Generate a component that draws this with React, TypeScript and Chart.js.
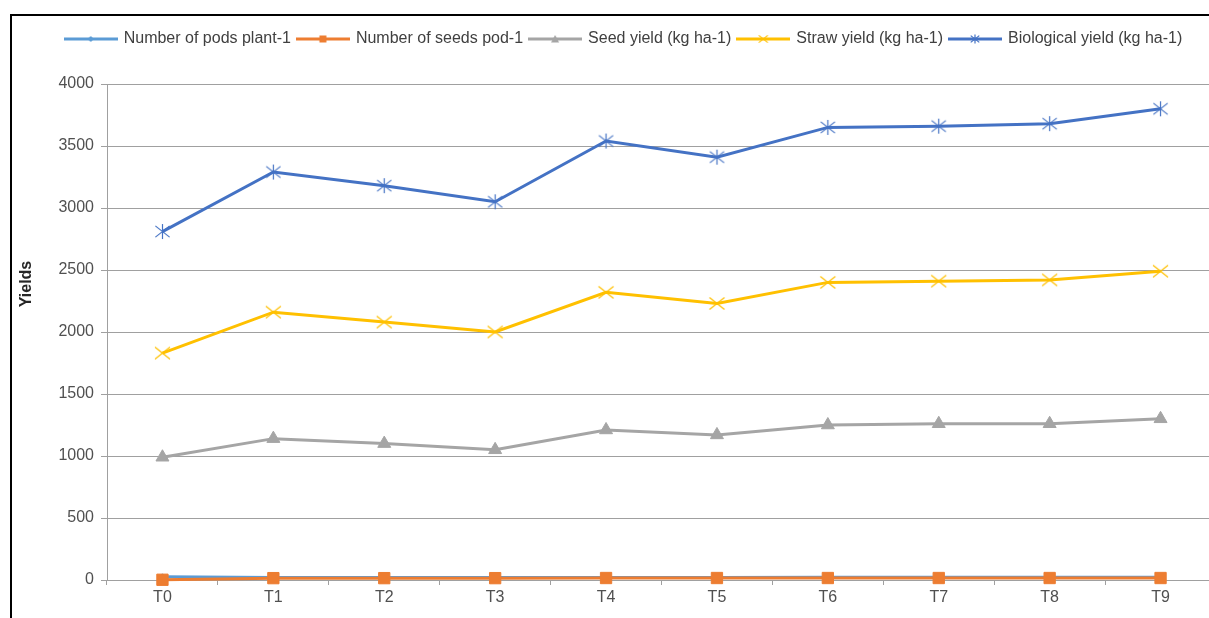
import React, { useEffect, useRef } from "react";
import { Chart, registerables } from "chart.js";

Chart.register(...registerables);

const categories = ["T0", "T1", "T2", "T3", "T4", "T5", "T6", "T7", "T8", "T9"];
const podsPerPlant = [26, 20, 21, 20, 21, 21, 22, 22, 22, 22];
const seedsPerPod = [2, 15, 15, 15, 16, 16, 16, 16, 16, 16];
const seedYield = [990, 1140, 1100, 1050, 1210, 1170, 1250, 1260, 1260, 1300];
const strawYield = [1830, 2160, 2080, 2000, 2320, 2230, 2400, 2410, 2420, 2490];
const biologicalYield = [2810, 3290, 3180, 3050, 3540, 3410, 3650, 3660, 3680, 3800];
const seriesNames = [
  "Number of pods plant-1",
  "Number of seeds pod-1",
  "Seed yield (kg ha-1)",
  "Straw yield (kg ha-1)",
  "Biological yield (kg ha-1)",
];
const yTitle = "Yields";

const COLORS = ["#5B9BD5", "#ED7D31", "#A5A5A5", "#FFC000", "#4472C4"];
const FONT = "'Liberation Sans', Arial, sans-serif";

type Kind = "diamond" | "square" | "triangle" | "x" | "star";

function drawMarker(ctx: CanvasRenderingContext2D, kind: Kind, x: number, y: number, s: number, color: string) {
  ctx.save();
  ctx.fillStyle = color;
  ctx.strokeStyle = color;
  ctx.lineWidth = 1.2;
  ctx.beginPath();
  if (kind === "diamond") {
    ctx.moveTo(x, y - s);
    ctx.lineTo(x + s, y);
    ctx.lineTo(x, y + s);
    ctx.lineTo(x - s, y);
    ctx.closePath();
    ctx.fill();
  } else if (kind === "square") {
    ctx.rect(x - s, y - s, 2 * s, 2 * s);
    ctx.fill();
  } else if (kind === "triangle") {
    ctx.moveTo(x, y - s);
    ctx.lineTo(x + s, y + s * 0.85);
    ctx.lineTo(x - s, y + s * 0.85);
    ctx.closePath();
    ctx.fill();
  } else if (kind === "x") {
    ctx.moveTo(x - s, y - s * 0.8);
    ctx.lineTo(x + s, y + s * 0.8);
    ctx.moveTo(x + s, y - s * 0.8);
    ctx.lineTo(x - s, y + s * 0.8);
    ctx.stroke();
  } else if (kind === "star") {
    ctx.moveTo(x, y - s);
    ctx.lineTo(x, y + s);
    ctx.moveTo(x - s * 0.95, y - s * 0.75);
    ctx.lineTo(x + s * 0.95, y + s * 0.75);
    ctx.moveTo(x + s * 0.95, y - s * 0.75);
    ctx.lineTo(x - s * 0.95, y + s * 0.75);
    ctx.stroke();
  }
  ctx.restore();
}

function makePointImage(kind: Kind, s: number, color: string) {
  const c = document.createElement("canvas");
  const size = Math.ceil(2 * s + 4);
  c.width = size;
  c.height = size;
  const ctx = c.getContext("2d")!;
  drawMarker(ctx, kind, size / 2, size / 2, s, color);
  return c;
}

function makeLegendIcon(kind: Kind, s: number, color: string) {
  const c = document.createElement("canvas");
  c.width = 54;
  c.height = 16;
  const ctx = c.getContext("2d")!;
  ctx.strokeStyle = color;
  ctx.lineWidth = 3;
  ctx.beginPath();
  ctx.moveTo(0, 8);
  ctx.lineTo(54, 8);
  ctx.stroke();
  drawMarker(ctx, kind, 27, 8, s, color);
  return c;
}

const kinds: Kind[] = ["diamond", "square", "triangle", "x", "star"];

export default function App() {
  const ref = useRef<HTMLCanvasElement | null>(null);

  useEffect(() => {
    const canvas = ref.current;
    if (!canvas) return;

    const legendIcons = kinds.map((k, i) =>
      makeLegendIcon(k, k === "diamond" ? 3 : k === "square" ? 3.5 : k === "triangle" ? 4 : 4.5, COLORS[i])
    );
    const starImg = makePointImage("star", 7.5, COLORS[4]);
    const xImg = makePointImage("x", 7.5, COLORS[3]);

    const yTitlePlugin = {
      id: "yTitle",
      afterDraw(chart: any) {
        const ctx = chart.ctx;
        ctx.save();
        ctx.translate(27, 284);
        ctx.rotate(-Math.PI / 2);
        ctx.font = `bold 16px ${FONT}`;
        ctx.fillStyle = "#262626";
        ctx.textAlign = "center";
        ctx.textBaseline = "middle";
        ctx.fillText(yTitle, 0, 0);
        ctx.restore();
      },
    };

    const legendSpacer = {
      id: "legendSpacer",
      afterInit(chart: any) {
        const lg = chart.legend;
        if (lg && !lg.__patched) {
          const orig = lg.fit.bind(lg);
          lg.fit = function () {
            orig();
            this.height += 27;
          };
          lg.__patched = true;
        }
      },
    };

    const base = {
      fill: false,
      tension: 0,
      borderWidth: 3,
      pointBorderWidth: 1,
      pointHoverRadius: 0,
      clip: false,
    };

    const chart = new Chart(canvas, {
      type: "line",
      data: {
        labels: categories,
        datasets: [
          {
            ...base,
            label: seriesNames[0],
            data: podsPerPlant,
            borderColor: COLORS[0],
            backgroundColor: COLORS[0],
            pointStyle: "rectRot",
            pointRadius: 3,
            order: 1,
          },
          {
            ...base,
            label: seriesNames[1],
            data: seedsPerPod,
            borderColor: COLORS[1],
            backgroundColor: COLORS[1],
            pointStyle: "rect",
            pointRadius: 8,
            order: 0,
          },
          {
            ...base,
            label: seriesNames[2],
            data: seedYield,
            borderColor: COLORS[2],
            backgroundColor: COLORS[2],
            pointStyle: "triangle",
            pointRadius: 7.5,
            order: 2,
          },
          {
            ...base,
            label: seriesNames[3],
            data: strawYield,
            borderColor: COLORS[3],
            backgroundColor: COLORS[3],
            pointStyle: xImg as any,
            pointRadius: 8,
            order: 3,
          },
          {
            ...base,
            label: seriesNames[4],
            data: biologicalYield,
            borderColor: COLORS[4],
            backgroundColor: COLORS[4],
            pointStyle: starImg as any,
            pointRadius: 8,
            order: 4,
          },
        ],
      },
      options: {
        animation: false,
        responsive: false,
        devicePixelRatio: 1,
        layout: { padding: { left: 32, right: 14, top: 24, bottom: 0 } },
        plugins: {
          tooltip: { enabled: false },
          legend: {
            position: "top",
            labels: {
              usePointStyle: true,
              pointStyleWidth: 50,
              boxHeight: 16,
              padding: 7,
              color: "#404040",
              font: { family: FONT, size: 16 },
              sort: (a: any, b: any) => a.datasetIndex - b.datasetIndex,
              generateLabels: (ch: any) => {
                const items = (Chart.defaults.plugins.legend.labels as any).generateLabels(ch);
                items.forEach((it: any) => {
                  it.pointStyle = legendIcons[it.datasetIndex];
                  it.rotation = 0;
                });
                return items;
              },
            },
          },
        },
        scales: {
          x: {
            offset: true,
            grid: {
              offset: true,
              drawOnChartArea: false,
              tickLength: 5,
              color: "#A0A0A0",
            },
            border: { color: "#A0A0A0", width: 1 },
            ticks: {
              color: "#505050",
              font: { family: FONT, size: 16 },
              padding: 3,
              maxRotation: 0,
            },
            afterFit: (s: any) => {
              s.height = 38;
            },
          },
          y: {
            min: 0,
            max: 4000,
            grid: { color: "#A0A0A0", tickLength: 6, lineWidth: 1 },
            border: { color: "#A0A0A0", width: 1 },
            ticks: {
              stepSize: 500,
              color: "#505050",
              font: { family: FONT, size: 16 },
              padding: 7,
              callback: (v: any) => String(v),
            },
            afterFit: (s: any) => {
              s.width = 75;
            },
          },
        },
      },
      plugins: [yTitlePlugin, legendSpacer],
    } as any);

    return () => chart.destroy();
  }, []);

  return (
    <div
      style={{
        position: "fixed",
        left: 0,
        top: 0,
        width: 1209,
        height: 618,
        background: "#fff",
        overflow: "hidden",
      }}
    >
      <div
        style={{
          position: "absolute",
          left: 10,
          top: 14,
          width: 1300,
          height: 700,
          borderLeft: "2px solid #000",
          borderTop: "2px solid #000",
        }}
      />
      <canvas
        ref={ref}
        width={1230}
        height={618}
        style={{ position: "absolute", left: 0, top: 0, width: 1230, height: 618 }}
      />
    </div>
  );
}
